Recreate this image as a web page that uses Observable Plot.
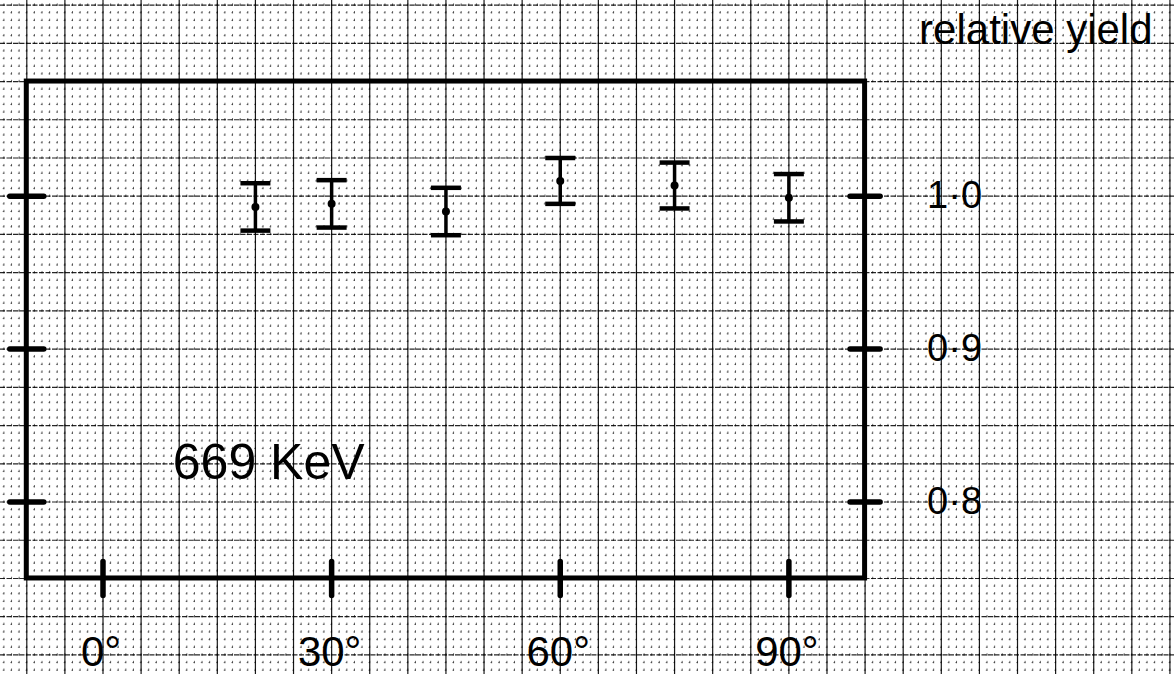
<!DOCTYPE html>
<html>
<head>
<meta charset="utf-8">
<script src="https://cdn.jsdelivr.net/npm/d3@7"></script>
<script src="https://cdn.jsdelivr.net/npm/@observablehq/plot@0.6"></script>
<style>
  html, body { margin: 0; padding: 0; background: #fff; overflow: hidden; }
  svg { display: block; }
</style>
</head>
<body>
<script>
// ---- data ----
const angles = [20, 30, 45, 60, 75, 90];                       // degrees
const yields = [0.993, 0.995, 0.990, 1.010, 1.007, 0.999];     // relative yield
const errors = [0.0155, 0.0155, 0.0155, 0.015, 0.015, 0.0155]; // half error bar

const xTicks = [0, 30, 60, 90];
const xTickLabels = ["0°", "30°", "60°", "90°"];
const yTicks = [0.8, 0.9, 1.0];
const yTickLabels = ["0·8", "0·9", "1·0"];

const xFrame = [-10, 100];
const yFrame = [0.75, 1.075];

const yLabel = "relative yield";
const note = "669 KeV";

// ---- page geometry (graph paper covers the whole picture) ----
const W = 1174, H = 674;
const xDomain = [-13.45, 140.6];
const yDomain = [0.6872, 1.128];

const points = angles.map((a, i) => ({
  angle: a, y: yields[i], lo: yields[i] - errors[i], hi: yields[i] + errors[i]
}));

// graph paper lines
const minorX = d3.range(-13, 141, 1);
const majorX = d3.range(-10, 141, 5);
const minorY = d3.range(0.69, 1.128, 0.005);
const majorY = d3.range(0.7, 1.128, 0.025);

// pixel spacing of minor lines (for dotted pattern)
const pxPerY = H / (yDomain[1] - yDomain[0]);
const pxPerX = W / (xDomain[1] - xDomain[0]);
const perY = 0.005 * pxPerY;
const perX = 1 * pxPerX;
const firstYpx = ((yDomain[1] - 0.69) * pxPerY) % perY;
const firstXpx = ((-13 - xDomain[0]) * pxPerX) % perX;

// line symbols for hand-drawn ticks and caps
const hline = { draw(ctx, size) { const r = Math.sqrt(size / Math.PI); ctx.moveTo(-r, 0); ctx.lineTo(r, 0); } };
const vline = { draw(ctx, size) { const r = Math.sqrt(size / Math.PI); ctx.moveTo(0, -r); ctx.lineTo(0, r); } };

const font = "Liberation Sans, Arial, sans-serif";

const chart = Plot.plot({
  width: W,
  height: H,
  margin: 0,
  style: { background: "#fff" },
  x: { domain: xDomain, axis: null },
  y: { domain: yDomain, axis: null },
  marks: [
    // minor dotted grid
    Plot.ruleX(minorX, { x: d => d, stroke: "#000", strokeWidth: 1, strokeOpacity: 0.6,
      strokeDasharray: `2.4 ${(perY - 2.4).toFixed(3)}`, strokeDashoffset: -(firstYpx - 1.2) }),
    Plot.ruleY(minorY, { y: d => d, stroke: "#000", strokeWidth: 1, strokeOpacity: 0.45,
      strokeDasharray: `1.6 ${(perX - 1.6).toFixed(3)}`, strokeDashoffset: -(firstXpx - 0.8) }),
    // major grid
    Plot.ruleX(majorX, { x: d => d, stroke: "#000", strokeWidth: 1.2, strokeOpacity: 0.9 }),
    Plot.ruleY(majorY, { y: d => d, stroke: "#000", strokeWidth: 1.2, strokeOpacity: 0.85,
      strokeDasharray: "5 1.5" }),
    // frame
    Plot.rect([0], { x1: xFrame[0], x2: xFrame[1], y1: yFrame[0], y2: yFrame[1],
      fill: "none", stroke: "#000", strokeWidth: 5 }),
    // ticks on frame
    Plot.dot(yTicks, { x: xFrame[0], y: d => d, symbol: hline, r: 17, stroke: "#000", strokeWidth: 5.5, strokeLinecap: "round" }),
    Plot.dot(yTicks, { x: xFrame[1], y: d => d, symbol: hline, r: 15, stroke: "#000", strokeWidth: 5.5, strokeLinecap: "round" }),
    Plot.dot(xTicks, { x: d => d, y: yFrame[0], symbol: vline, r: 17, stroke: "#000", strokeWidth: 5.5, strokeLinecap: "round" }),
    // error bars
    Plot.ruleX(points, { x: "angle", y1: "lo", y2: "hi", stroke: "#000", strokeWidth: 3.5 }),
    Plot.dot(points, { x: "angle", y: "lo", symbol: hline, r: 15, stroke: "#000", strokeWidth: 4.5 }),
    Plot.dot(points, { x: "angle", y: "hi", symbol: hline, r: 15, stroke: "#000", strokeWidth: 4.5 }),
    Plot.dot(points, { x: "angle", y: "y", r: 4, fill: "#000", stroke: "none" }),
    // tick labels
    Plot.text(xTicks, { x: d => d, y: yFrame[0], text: (d, i) => xTickLabels[i], dy: 88, dx: -2,
      lineAnchor: "bottom", fontSize: 42, fontFamily: font, fill: "#000" }),
    Plot.text(yTicks, { x: xFrame[1], y: d => d, text: (d, i) => yTickLabels[i], dx: 62,
      textAnchor: "start", fontSize: 38, fontFamily: font, fill: "#000" }),
    // axis title & note
    Plot.text([yLabel], { x: xFrame[1], y: yFrame[1], text: d => d, dx: 54, dy: -38,
      textAnchor: "start", lineAnchor: "bottom", fontSize: 42, fontFamily: font, fill: "#000" }),
    Plot.text([note], { x: xFrame[0], y: yFrame[0], text: d => d, dx: 146, dy: -99,
      textAnchor: "start", lineAnchor: "bottom", fontSize: 50, fontFamily: font, fill: "#000" })
  ]
});

document.body.appendChild(chart);
</script>
</body>
</html>
